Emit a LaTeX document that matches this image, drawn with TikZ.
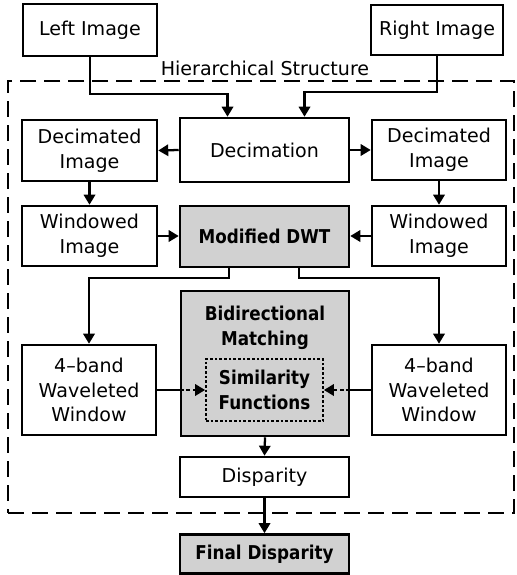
\documentclass[tikz,border=0pt]{standalone}
\usepackage{fontspec}
\setmainfont{DejaVu Sans}
\newfontfamily\bfc{DejaVu Sans}[FakeStretch=0.88]
\usetikzlibrary{arrows.meta}
\begin{document}
\begin{tikzpicture}[x=0.75pt,y=-0.75pt,
  txt/.style={align=center, inner sep=0pt, font=\fontsize{14.3}{18.5}\selectfont},
  btxt/.style={align=center, inner sep=0pt, font=\fontsize{14.3}{18.5}\selectfont\bfc\bfseries},
  box/.style={txt, draw, line width=1.9pt},
  gbox/.style={box, fill=black!18, font=\fontsize{14.3}{18.5}\selectfont\bfc\bfseries},
  simbox/.style={btxt, draw, fill=black!18, line width=1.3pt, dash pattern=on 2pt off 1.5pt},
  frame/.style={draw, line width=1.6pt, dash pattern=on 12pt off 6pt, inner sep=0pt},
  arr/.style={line width=1.7pt, -{Triangle[length=7.5pt,width=8.5pt]}},
  ln/.style={line width=1.7pt},
  darr/.style={line width=1.7pt, dash pattern=on 3pt off 2pt, -{Triangle[length=7.5pt,width=8.5pt]}}]
\useasboundingbox (0,0) rectangle (517,575);

\node[frame, minimum width=379.5pt, minimum height=324pt] (hier) at (261,297) {};
\node[txt, fill=white, inner sep=1pt] (hiertxt) at (265,68) {Hierarchical Structure};

\node[box, minimum width=100.5pt, minimum height=39pt] (limg) at (90,30) {Left Image};
\node[box, minimum width=99pt, minimum height=37.5pt] (rimg) at (437,30) {Right Image};

\node[box, minimum width=126.75pt, minimum height=48pt] (dec) at (264.5,150) {Decimation};
\node[box, minimum width=101.25pt, minimum height=45.75pt] (decl) at (89.5,150.5) {Decimated\\Image};
\node[box, minimum width=100.5pt, minimum height=45pt] (decr) at (439,150) {Decimated\\Image};

\node[box, minimum width=101.25pt, minimum height=45pt] (winl) at (89.5,236) {Windowed\\Image};
\node[box, minimum width=100.5pt, minimum height=45pt] (winr) at (439,236) {Windowed\\Image};
\node[gbox, minimum width=126.75pt, minimum height=45.75pt] (dwt) at (264.5,236.5) {Modified DWT};

\node[gbox, minimum width=126pt, minimum height=108.75pt] (bidir) at (265,363.5) {};
\node[btxt] (bidirtxt) at (265,327.5) {Bidirectional\\Matching};
\node[simbox, minimum width=87.75pt, minimum height=46.5pt] (sim) at (264.5,390) {Similarity\\Functions};

\node[box, minimum width=100.5pt, minimum height=67.5pt] (bandl) at (89,390) {4--band\\Waveleted\\Window};
\node[box, minimum width=100.5pt, minimum height=67.5pt] (bandr) at (439,390) {4--band\\Waveleted\\Window};

\node[box, minimum width=126.75pt, minimum height=30pt] (disp) at (264.5,477) {Disparity};
\node[gbox, minimum width=126.75pt, minimum height=29.25pt] (fdisp) at (264.5,554) {Final Disparity};

% connectors
\draw[arr] (limg.south) -- ++(0,37) -| ([xshift=-27.75pt]dec.north);
\draw[arr] (rimg.south) -- ++(0,36) -| ([xshift=30pt]dec.north);
\draw[arr] (dec.west) -- (decl.east);
\draw[arr] (dec.east) -- (decr.east -| decr.west);
\draw[arr] (decl.south) -- (winl.north);
\draw[arr] (decr.south) -- (winr.north);
\draw[arr] (winl.east) -- (winl.east -| dwt.west);
\draw[arr] (winr.west) -- (winr.west -| dwt.east);
\draw[arr] ([xshift=-26.6pt]dwt.south) -- ++(0,10) -| (bandl.north);
\draw[arr] ([xshift=25.9pt]dwt.south) -- ++(0,10) -| (bandr.north);
\draw[ln] (bandl.east) -- (bandl.east -| bidir.west);
\draw[darr] (bandl.east -| bidir.west) -- (sim.west);
\draw[ln] (bandr.west) -- (bandr.west -| bidir.east);
\draw[darr] (bandr.west -| bidir.east) -- (sim.east);
\draw[arr] (bidir.south) -- (disp.north);
\draw[arr] (disp.south) -- (fdisp.north);
\end{tikzpicture}
\end{document}
